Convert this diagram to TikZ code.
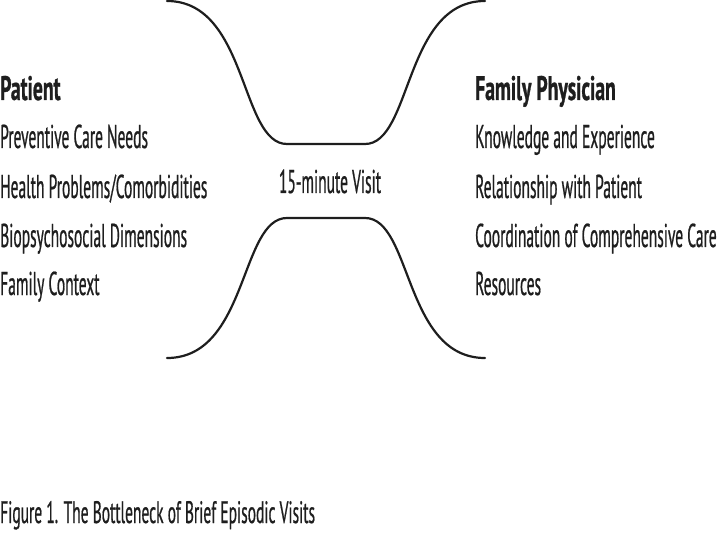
\documentclass[tikz,border=0pt]{standalone}
\usepackage{fontspec}
\setmainfont{PT Sans}[FakeStretch=0.47,FakeBold=0.6]
\newfontfamily\headfont{PT Sans}[FakeStretch=0.58,FakeBold=0.8]
\newfontfamily\capfont{PT Sans}[FakeStretch=0.5,FakeBold=0.6]
\definecolor{ink}{HTML}{1E1E1E}
\begin{document}
\begin{tikzpicture}[x=1pt,y=1pt,
  curve/.style={draw=ink,line width=2.2pt,line cap=round,line join=round},
  head/.style={anchor=base west,inner sep=0pt,font=\headfont\fontsize{34}{34}\selectfont\bfseries,text=ink},
  item/.style={anchor=base west,inner sep=0pt,font=\fontsize{33}{33}\selectfont,text=ink},
  captext/.style={anchor=base west,inner sep=0pt,font=\capfont\fontsize{31}{31}\selectfont,text=ink}]
\useasboundingbox (0,0) rectangle (720,-540);
% top curve
\coordinate (t1) at (167,-1);
\coordinate (t2) at (287,-144);
\coordinate (t3) at (365,-144);
\coordinate (t4) at (485,-1);
\draw[curve] (t1) .. controls (248,-1) and (240,-144) .. (t2) -- (t3)
  .. controls (412,-144) and (404,-1) .. (t4);
% bottom curve
\coordinate (b1) at (167,-358);
\coordinate (b2) at (287,-218);
\coordinate (b3) at (365,-218);
\coordinate (b4) at (485,-358);
\draw[curve] (b1) .. controls (248,-358) and (240,-218) .. (b2) -- (b3)
  .. controls (412,-218) and (404,-358) .. (b4);
% left column
\node[head] (pat) at (0,-100) {Patient};
\node[item] (p1) at (0,-148) {Preventive Care Needs};
\node[item] (p2) at (0,-198) {Health Problems/Comorbidities};
\node[item] (p3) at (0,-247) {Biopsychosocial Dimensions};
\node[item] (p4) at (0,-295) {Family Context};
% right column
\node[head] (fp) at (475,-100) {Family Physician};
\node[item] (f1) at (475,-148) {Knowledge and Experience};
\node[item] (f2) at (475,-198) {Relationship with Patient};
\node[item] (f3) at (475,-247) {Coordination of Comprehensive Care};
\node[item] (f4) at (475,-295) {Resources};
% center
\node[item,anchor=base] (visit) at (330,-193) {15-minute Visit};
% caption
\node[captext] (fig) at (0,-523) {Figure 1. The Bottleneck of Brief Episodic Visits};
\end{tikzpicture}
\end{document}
